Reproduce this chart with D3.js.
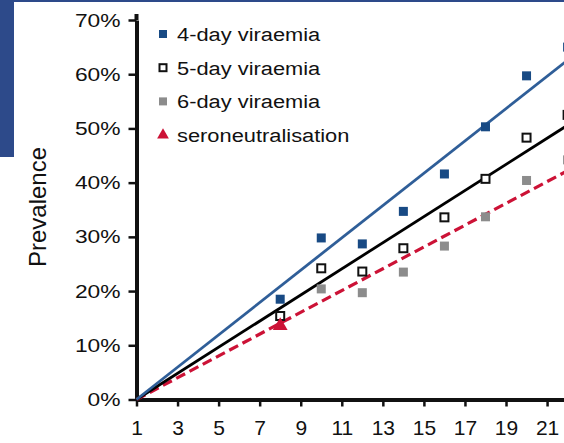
<!DOCTYPE html>
<html><head><meta charset="utf-8">
<script src="https://cdn.jsdelivr.net/npm/d3@7"></script>
<style>
html,body{margin:0;padding:0;background:#fff;}
svg{display:block;font-family:"Liberation Sans",Arial,Helvetica,sans-serif;}
</style></head><body>
<svg id="chart" width="564" height="443"></svg>
<script>
// Observation days and prevalence (%) per viraemia duration
const days = [8, 10, 12, 14, 16, 18, 20, 22];
const viraemia4 = [18.5, 29.8, 28.7, 34.7, 41.6, 50.3, 59.7, 65.0];
const viraemia5 = [15.4, 24.2, 23.6, 27.9, 33.6, 40.7, 48.3, 52.5];
const viraemia6 = [null, 20.4, 19.7, 23.5, 28.3, 33.7, 40.4, 44.2];
const seroDays = [8];
const seroValues = [13.6];

// Linear trends starting from zero at day 1
const trendDays = [1, 22];
const trend4 = [0, 62.6];
const trend5 = [0, 50.6];
const trendSero = [0, 42.2];

const xTicks = [1, 3, 5, 7, 9, 11, 13, 15, 17, 19, 21];
const yTicks = [0, 10, 20, 30, 40, 50, 60, 70];
const legendLabels = ["4-day viraemia", "5-day viraemia", "6-day viraemia", "seroneutralisation"];

const C = {
  band: "#2d4a8a",
  blueMark: "#184a84",
  blueLine: "#2f5e98",
  grey: "#8c8c8c",
  red: "#cc1236",
  ink: "#111"
};

const svg = d3.select("#chart");

// page furniture: thin band on top and block on the left
svg.append("rect").attr("x", 0).attr("y", 0).attr("width", 564).attr("height", 2).attr("fill", C.band);
svg.append("rect").attr("x", 0).attr("y", 0).attr("width", 14).attr("height", 157).attr("fill", C.band);

const x = d3.scaleLinear().domain([1, 22]).range([136.5, 567.6]);
const y = d3.scaleLinear().domain([0, 70]).range([399.5, 20]);

// stretch a text horizontally around its anchor
function hstretch(sel, k) {
  sel.each(function () {
    const t = d3.select(this);
    const tx = +t.attr("x") || 0;
    t.attr("transform", `translate(${tx},0) scale(${k},1) translate(${-tx},0)`);
  });
}

// axes
const gx = svg.append("g").attr("transform", `translate(0,${y(0)})`)
  .call(d3.axisBottom(x).tickValues(xTicks).tickSize(7).tickSizeOuter(0).tickPadding(14));
gx.select(".domain").attr("stroke", C.ink).attr("stroke-width", 4);
gx.selectAll(".tick line").attr("stroke", C.ink).attr("stroke-width", 2.5);
gx.selectAll(".tick text").attr("font-size", 21).attr("fill", C.ink).attr("font-family", null);

const gy = svg.append("g").attr("transform", `translate(${x(1)},0)`)
  .call(d3.axisLeft(y).tickValues(yTicks).tickSize(8).tickSizeOuter(0).tickPadding(8)
    .tickFormat(d => d + "%"));
gy.select(".domain").attr("stroke", C.ink).attr("stroke-width", 4);
gy.selectAll(".tick line").attr("stroke", C.ink).attr("stroke-width", 2.5);
gy.selectAll(".tick text").attr("font-size", 19).attr("fill", C.ink).attr("font-family", null)
  .call(hstretch, 1.2);
// axis line runs a little past the top tick
gy.append("line").attr("x1", 0).attr("x2", 0).attr("y1", y(70)).attr("y2", y(70) - 6)
  .attr("stroke", C.ink).attr("stroke-width", 4);

svg.append("text")
  .attr("transform", `translate(46,207) rotate(-90)`)
  .attr("text-anchor", "middle").attr("font-size", 24).attr("fill", C.ink)
  .text("Prevalence");

// trend lines
const line = d3.line().x(d => x(d[0])).y(d => y(d[1]));
const trend = (vals) => trendDays.map((d, i) => [d, vals[i]]);
const plot = svg.append("g");
plot.append("path").datum(trend(trendSero)).attr("d", line).attr("fill", "none")
  .attr("stroke", C.red).attr("stroke-width", 3.2).attr("stroke-dasharray", "10,5");
plot.append("path").datum(trend(trend5)).attr("d", line).attr("fill", "none")
  .attr("stroke", "#000").attr("stroke-width", 2.8);
plot.append("path").datum(trend(trend4)).attr("d", line).attr("fill", "none")
  .attr("stroke", C.blueLine).attr("stroke-width", 2.8);

// markers
const pts = (vals) => days.map((d, i) => [d, vals[i]]).filter(p => p[1] != null);
const S = 9;
plot.selectAll(".v6").data(pts(viraemia6)).join("rect")
  .attr("x", d => x(d[0]) - S / 2).attr("y", d => y(d[1]) - S / 2)
  .attr("width", S).attr("height", S).attr("fill", C.grey);
plot.selectAll(".v5").data(pts(viraemia5)).join("rect")
  .attr("x", d => x(d[0]) - 4).attr("y", d => y(d[1]) - 4)
  .attr("width", 8).attr("height", 8).attr("fill", "#fff").attr("stroke", "#111").attr("stroke-width", 2);
plot.selectAll(".v4").data(pts(viraemia4)).join("rect")
  .attr("x", d => x(d[0]) - S / 2).attr("y", d => y(d[1]) - S / 2)
  .attr("width", S).attr("height", S).attr("fill", C.blueMark);
plot.selectAll(".sero").data(seroDays.map((d, i) => [d, seroValues[i]])).join("path")
  .attr("transform", d => `translate(${x(d[0])},${y(d[1])})`)
  .attr("d", d3.symbol(d3.symbolTriangle, 95)).attr("fill", C.red);

// legend
const lg = svg.append("g");
const rowY = i => 34 + i * 33.7;
lg.append("rect").attr("x", 159).attr("y", rowY(0) - 4).attr("width", 8).attr("height", 8).attr("fill", C.blueMark);
lg.append("rect").attr("x", 159.5).attr("y", rowY(1) - 3.5).attr("width", 7).attr("height", 7)
  .attr("fill", "#fff").attr("stroke", "#111").attr("stroke-width", 2);
lg.append("rect").attr("x", 159).attr("y", rowY(2) - 4).attr("width", 8).attr("height", 8).attr("fill", C.grey);
lg.append("path").attr("transform", `translate(163,${rowY(3)})`)
  .attr("d", d3.symbol(d3.symbolTriangle, 60)).attr("fill", C.red);
lg.selectAll("text").data(legendLabels).join("text")
  .attr("x", 177).attr("y", (d, i) => rowY(i)).attr("dy", "0.36em")
  .attr("font-size", 19).attr("fill", C.ink).text(d => d)
  .call(hstretch, 1.15);
</script>
</body></html>
